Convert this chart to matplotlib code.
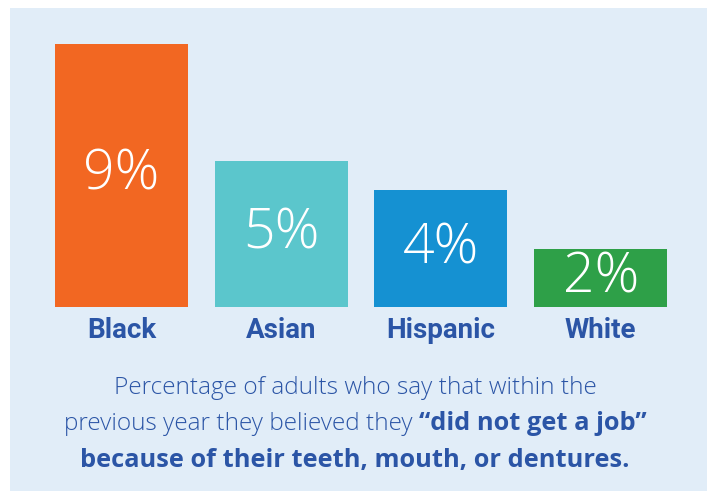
import matplotlib
matplotlib.use("Agg")
import matplotlib.pyplot as plt
from matplotlib.patches import Rectangle
from matplotlib import transforms

groups = ["Black", "Asian", "Hispanic", "White"]
percent = [9, 5, 4, 2]
bar_colors = ["#F26722", "#5BC6CC", "#1591D2", "#2EA048"]

caption_line1 = "Percentage of adults who say that within the"
caption_line2_plain = "previous year they believed they "
caption_line2_bold = "\u201cdid not get a job\u201d"
caption_line3 = "because of their teeth, mouth, or dentures."

W, H = 707, 491
BG = "#E1EDF8"
TEXT = "#2B55A6"
CAP_FONT = "Open Sans"

fig = plt.figure(figsize=(W / 100, H / 100), dpi=100)
fig.patch.set_facecolor("white")
fig.add_artist(Rectangle((10 / W, 0), (W - 10) / W, (H - 8) / H,
                         transform=fig.transFigure, facecolor=BG,
                         edgecolor="none", zorder=0))

# axes placed in pixel terms: bar baseline at y=307, 9% reaches y=44
left_px, right_px = 41.5, 680.5
base_px, top_px = 307, 44
ax = fig.add_axes([left_px / W, 1 - base_px / H,
                   (right_px - left_px) / W, (base_px - top_px) / H])
ax.set_facecolor("none")
ax.set_xlim(-0.5, len(groups) - 0.5)
ax.set_ylim(0, max(percent))
ax.axis("off")

xs = range(len(groups))
ax.bar(xs, percent, width=0.833, color=bar_colors, zorder=2)

for x, v in zip(xs, percent):
    ax.text(x, v / 2, f"{v}%", ha="center", va="center", color="white",
            fontsize=40, family="Open Sans", fontweight="light", zorder=3)

blend = transforms.blended_transform_factory(ax.transData, fig.transFigure)
for x, g in zip(xs, groups):
    ax.text(x, 1 - 330 / H, g, transform=blend, ha="center", va="center",
            color=TEXT, fontsize=20, fontweight="bold", family="Roboto")

cx = 355 / W
fig.text(cx, 1 - 388 / H, caption_line1, ha="center", va="center",
         color=TEXT, fontsize=17.6, family=CAP_FONT, fontweight="light")
fig.text(cx, 1 - 460 / H, caption_line3, ha="center", va="center",
         color=TEXT, fontsize=18.3, family=CAP_FONT, fontweight="bold")

# second line mixes regular and bold runs; centre them together
fig.canvas.draw()
r = fig.canvas.get_renderer()
y2 = 1 - 424 / H
t_plain = fig.text(0, y2, caption_line2_plain, ha="left", va="center",
                   color=TEXT, fontsize=17.6, family=CAP_FONT, fontweight="light")
t_bold = fig.text(0, y2, caption_line2_bold, ha="left", va="center",
                  color=TEXT, fontsize=18.3, family=CAP_FONT, fontweight="bold")
w1 = t_plain.get_window_extent(r).width
w2 = t_bold.get_window_extent(r).width
start = 355 - (w1 + w2) / 2
t_plain.set_x(start / W)
t_bold.set_x((start + w1) / W)

fig.savefig("out.png", dpi=100, facecolor=fig.get_facecolor())
